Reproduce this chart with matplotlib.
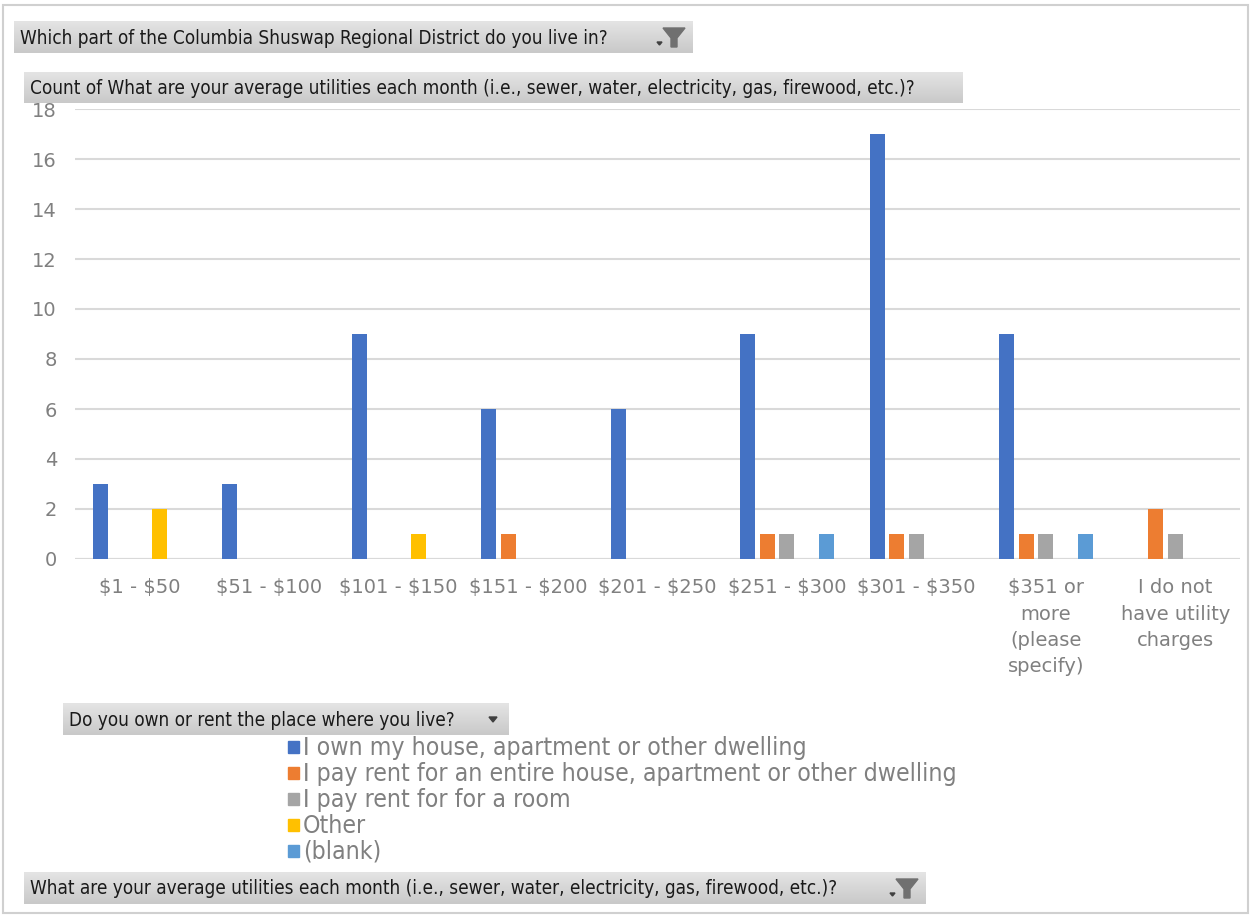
import matplotlib
matplotlib.use("Agg")
import matplotlib.pyplot as plt
import numpy as np
from matplotlib.colors import LinearSegmentedColormap
from matplotlib.patches import Rectangle, Polygon

plt.rcParams["text.parse_math"] = False

# ---------------------------------------------------------------------------
# Data
# ---------------------------------------------------------------------------
categories = [
    "$1 - $50", "$51 - $100", "$101 - $150", "$151 - $200", "$201 - $250",
    "$251 - $300", "$301 - $350", "$351 or\nmore\n(please\nspecify)",
    "I do not\nhave utility\ncharges",
]
series_names = [
    "I own my house, apartment or other dwelling",
    "I pay rent for an entire house, apartment or other dwelling",
    "I pay rent for for a room",
    "Other",
    "(blank)",
]
own = [3, 3, 9, 6, 6, 9, 17, 9, 0]
rent_entire = [0, 0, 0, 1, 0, 1, 1, 1, 2]
rent_room = [0, 0, 0, 0, 0, 1, 1, 1, 1]
other = [2, 0, 1, 0, 0, 0, 0, 0, 0]
blank = [0, 0, 0, 0, 0, 1, 0, 1, 0]
yticks = [0, 2, 4, 6, 8, 10, 12, 14, 16, 18]

series_colors = ["#4472C4", "#ED7D31", "#A5A5A5", "#FFC000", "#5B9BD5"]

filter_top = "Which part of the Columbia Shuswap Regional District do you live in?"
value_field = ("Count of What are your average utilities each month "
               "(i.e., sewer, water, electricity, gas, firewood, etc.)?")
legend_field = "Do you own or rent the place where you live?"
axis_field = ("What are your average utilities each month "
              "(i.e., sewer, water, electricity, gas, firewood, etc.)?")

W, H = 1254, 918
GREY_TXT = "#808080"

fig = plt.figure(figsize=(W / 100, H / 100), dpi=100)
fig.patch.set_facecolor("white")

# ---------------------------------------------------------------------------
# Main chart
# ---------------------------------------------------------------------------
left, right, y0, y18 = 75, 1240, 559, 109
ax = fig.add_axes([left / W, 1 - y0 / H, (right - left) / W, (y0 - y18) / H])
x = np.arange(len(categories))
bar_w = 0.116
step = 0.152
for i, (vals, col) in enumerate(zip([own, rent_entire, rent_room, other, blank],
                                     series_colors)):
    ax.bar(x + (i - 2) * step, vals, width=bar_w, color=col, zorder=3,
           linewidth=0)

ax.set_xlim(-0.5, len(categories) - 0.5)
ax.set_ylim(0, 18)
ax.set_yticks(yticks)
ax.grid(axis="y", color="#d9d9d9", linewidth=1.5, zorder=0)
for s in ax.spines.values():
    s.set_visible(False)
ax.axhline(0, color="#d9d9d9", linewidth=1.5, zorder=2)
ax.set_xticks(x)
ax.set_xticklabels(categories, linespacing=1.48)
ax.tick_params(axis="both", length=0, colors=GREY_TXT, labelsize=14)
ax.tick_params(axis="x", pad=14)
ax.tick_params(axis="y", pad=13)

# ---------------------------------------------------------------------------
# Overlay for the pivot-table field buttons, legend and frame
# ---------------------------------------------------------------------------
ov = fig.add_axes([0, 0, 1, 1], zorder=5)
ov.axis("off")
ov.patch.set_alpha(0)

ov.add_patch(Rectangle((3, 5), 1245, 908, fill=False, edgecolor="#d0d0d0",
                       linewidth=1.5))

grad = np.linspace(0, 1, 50).reshape(-1, 1)
btn_cmap = LinearSegmentedColormap.from_list("btn", ["#e4e4e4", "#c9c9c9"])


def field_button(x0, y0b, x1, y1, text, icon=None):
    ov.imshow(grad, extent=(x0, x1, y1, y0b), cmap=btn_cmap, aspect="auto",
              zorder=1)
    cy = (y0b + y1) / 2
    ov.text(x0 + 6, cy + 1, text, fontsize=13.6, fontstretch="condensed",
            color="#1a1a1a", va="center", ha="left", zorder=2)
    if icon == "funnel":
        fx = x1 - 30
        ov.add_patch(Polygon([[fx, cy - 9], [fx + 22, cy - 9], [fx + 14, cy + 1],
                              [fx + 14, cy + 10], [fx + 8, cy + 10], [fx + 8, cy + 1]],
                             closed=True, color="#707070", zorder=3))
        ov.add_patch(Polygon([[fx - 6, cy + 5], [fx - 1, cy + 5], [fx - 3.5, cy + 8]],
                             closed=True, color="#404040", zorder=3))
    elif icon == "arrow":
        fx = x1 - 16
        ov.add_patch(Polygon([[fx - 4, cy - 2], [fx + 4, cy - 2], [fx, cy + 3]],
                             closed=True, color="#404040", zorder=3))


field_button(14, 21, 693, 53, filter_top, "funnel")
field_button(24, 72, 963, 103, value_field)
field_button(63, 703, 509, 735, legend_field, "arrow")
field_button(24, 872, 926, 904, axis_field, "funnel")

# Legend entries
ly = [747, 773, 799, 825, 851]
for yy, name, col in zip(ly, series_names, series_colors):
    ov.add_patch(Rectangle((288, yy - 6), 11, 12, color=col, zorder=3))
    ov.text(303, yy + 1, name, fontsize=17.8, color=GREY_TXT, va="center",
            ha="left", fontstretch="condensed", zorder=3)

ov.set_xlim(0, W)
ov.set_ylim(H, 0)

fig.savefig("out.png", dpi=100)
